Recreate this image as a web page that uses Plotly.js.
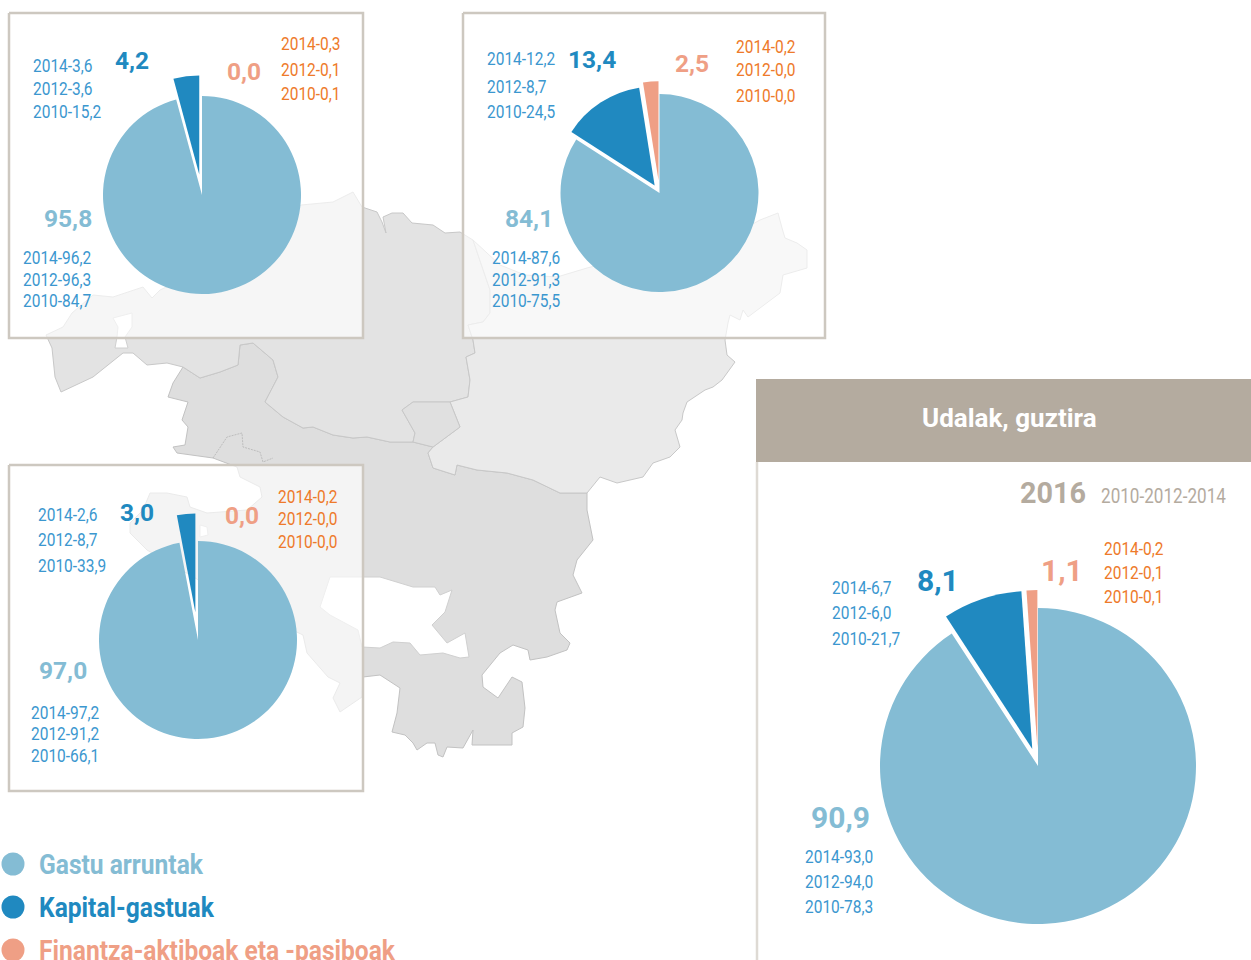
<!DOCTYPE html>
<html>
<head>
<meta charset="utf-8">
<script src="https://cdn.plot.ly/plotly-3.0.1.min.js"></script>
<style>html,body{margin:0;padding:0;background:#fff;overflow:hidden}</style>
</head>
<body>
<div id="chart" style="width:1251px;height:960px"></div>
<script>
// ---- data ----
const categories = ['Gastu arruntak', 'Kapital-gastuak', 'Finantza-aktiboak eta -pasiboak'];
const years = [2014, 2012, 2010];

const bizkaiaNow  = [95.8, 4.2, 0.0];
const gipuzkoaNow = [84.1, 13.4, 2.5];
const arabaNow    = [97.0, 3.0, 0.0];
const totalNow    = [90.9, 8.1, 1.1];

const bizkaiaCurrent  = [96.2, 96.3, 84.7];
const bizkaiaCapital  = [3.6, 3.6, 15.2];
const bizkaiaFinance  = [0.3, 0.1, 0.1];
const gipuzkoaCurrent = [87.6, 91.3, 75.5];
const gipuzkoaCapital = [12.2, 8.7, 24.5];
const gipuzkoaFinance = [0.2, 0.0, 0.0];
const arabaCurrent    = [97.2, 91.2, 66.1];
const arabaCapital    = [2.6, 8.7, 33.9];
const arabaFinance    = [0.2, 0.0, 0.0];
const totalCurrent    = [93.0, 94.0, 78.3];
const totalCapital    = [6.7, 6.0, 21.7];
const totalFinance    = [0.2, 0.1, 0.1];

const panelTitle = 'Udalak, guztira';
const panelYear = '2016';
const panelYears = '2010-2012-2014';

// backdrop map outlines
const mapWest = [[46,335],[63,327],[72,313],[93,295],[113,297],[143,287],[152,298],[160,290],[220,262],[270,222],[301,205],[333,202],[345,196],[353,192],[362,207],[377,212],[382,222],[386,233],[383,217],[392,213],[403,213],[412,223],[433,225],[445,233],[460,232],[473,240],[490,290],[490,313],[483,322],[468,325],[473,340],[475,353],[466,357],[470,380],[468,397],[450,402],[413,402],[402,410],[415,433],[413,442],[390,442],[367,437],[353,438],[333,435],[313,427],[303,428],[283,417],[265,402],[278,377],[273,360],[253,343],[240,345],[238,365],[220,372],[200,378],[183,367],[167,363],[147,365],[133,353],[123,353],[93,377],[61,392],[55,377],[52,348],[46,335]];
const mapEast = [[473,240],[487,253],[500,265],[525,275],[557,277],[587,268],[747,227],[760,220],[778,213],[782,228],[785,238],[797,243],[807,250],[807,268],[783,275],[780,293],[767,303],[748,317],[743,310],[740,320],[730,315],[728,323],[725,340],[727,355],[735,362],[722,380],[713,387],[705,390],[687,402],[683,413],[682,420],[675,430],[680,447],[670,457],[653,463],[643,477],[617,483],[600,477],[587,493],[560,493],[533,480],[507,473],[477,470],[457,465],[455,475],[433,468],[428,453],[433,447],[460,427],[450,402],[468,397],[470,380],[466,357],[475,353],[473,340],[468,325],[483,322],[490,313],[490,290],[473,240]];
const mapCentre = [[450,402],[413,402],[402,410],[415,433],[413,442],[433,447],[460,427],[450,402]];
const mapSouth = [[183,367],[173,383],[168,397],[188,402],[182,420],[188,427],[185,445],[173,447],[177,453],[213,458],[237,467],[240,477],[260,487],[262,497],[247,510],[207,513],[190,507],[187,497],[167,493],[150,493],[143,510],[130,523],[130,533],[147,550],[250,610],[303,635],[307,653],[328,677],[340,683],[333,698],[340,712],[362,697],[363,677],[380,675],[400,688],[397,713],[392,732],[405,735],[413,743],[417,750],[427,743],[435,743],[438,755],[443,757],[447,747],[463,748],[473,730],[472,745],[493,745],[512,745],[512,733],[523,727],[525,708],[523,693],[522,682],[512,677],[498,698],[483,687],[482,675],[500,653],[513,645],[528,650],[530,660],[547,657],[567,650],[570,643],[560,633],[555,610],[557,602],[582,593],[573,575],[577,560],[593,540],[587,510],[587,493],[560,493],[533,480],[507,473],[477,470],[457,465],[455,475],[433,468],[428,453],[433,447],[413,442],[390,442],[367,437],[353,438],[333,435],[313,427],[303,428],[283,417],[265,402],[278,377],[273,360],[253,343],[240,345],[238,365],[220,372],[200,378],[183,367]];
const mapInnerLine = [[213,458],[227,437],[242,433],[243,447],[260,452],[263,462],[273,458]];
const mapHoleA = [[113,318],[132,313],[132,327],[125,337],[128,348],[115,348],[117,337],[118,327],[113,318]];
const mapHoleB = [[320,607],[330,577],[380,577],[413,587],[435,587],[440,595],[452,590],[445,612],[432,625],[447,643],[465,633],[469,657],[460,658],[443,653],[420,655],[410,643],[393,642],[380,648],[362,647],[358,630],[330,615],[320,607]];
const mapHoleC = [[200,525],[207,527],[208,535],[200,537],[200,525]];

// ---- styling ----
const LIGHT = '#84bcd4', BLUE = '#2089c0', PINK = '#ef9f85';
const SMALLBLUE = '#3b97cf', ORANGE = '#ee7a2a', TAUPE = '#b4ab9f';
const FONT = 'Roboto,"Open Sans",sans-serif';
const W = 1251, H = 960;
const fmt = v => v.toFixed(1).replace('.', ',');

const traces = [];
function poly(pts, fill, line) {
  traces.push({type:'scatter', mode:'lines', x:pts.map(p=>p[0]), y:pts.map(p=>p[1]),
    fill:'toself', fillcolor:fill, line:{color:line, width:1}, hoverinfo:'skip', showlegend:false});
}
poly(mapSouth, '#dedede', '#c2c2c2');
poly(mapWest, '#e3e3e3', '#c8c8c8');
poly(mapEast, '#eaeaea', '#c8c8c8');
poly(mapCentre, '#e0e0e0', '#c8c8c8');
[mapHoleA, mapHoleB, mapHoleC].forEach(h => poly(h, '#ffffff', '#d0d0d0'));
traces.push({type:'scatter', mode:'lines', x:mapInnerLine.map(p=>p[0]), y:mapInnerLine.map(p=>p[1]),
  line:{color:'#bdbdbd', width:1, dash:'2px,1px'}, hoverinfo:'skip', showlegend:false});

// translucent frames over the map
const frames = [[9,363,13,338],[463,825,13,338],[9,363,465,791]];
frames.forEach(f => {
  traces.push({type:'scatter', mode:'lines', x:[f[0],f[1],f[1],f[0],f[0]], y:[f[2],f[2],f[3],f[3],f[2]],
    fill:'toself', fillcolor:'rgba(255,255,255,0.66)', line:{color:'#cdc8c0', width:2.5}, hoverinfo:'skip', showlegend:false});
});

// legend dots
const legendY = [865, 908, 951];
const palette = [LIGHT, BLUE, PINK];
traces.push({type:'scatter', mode:'markers', x:[13,13,13], y:[864,907,950],
  marker:{size:23, color:palette}, hoverinfo:'skip', showlegend:false});

// pies
function pie(vals, cx, cy, r, pull) {
  const m = Math.max(...pull), half = r * (1 + m);
  traces.push({type:'pie', values:vals, labels:categories, sort:false, direction:'clockwise', rotation:0,
    pull:pull, textinfo:'none', hoverinfo:'skip', showlegend:false,
    marker:{colors:palette, line:{width:0}},
    domain:{x:[(cx-half)/W,(cx+half)/W], y:[1-(cy+half)/H,1-(cy-half)/H]}});
}
pie(bizkaiaNow, 202, 195, 99, [0,0.21,0]);
pie(gipuzkoaNow, 659.5, 193, 99, [0,0.09,0.13]);
pie(arabaNow, 198, 640, 99, [0,0.28,0]);
pie(totalNow, 1038, 766, 158, [0,0.114,0.114]);

// text; squeeze[i] narrows a label to the condensed face of the original
const ann = [], squeeze = [];
function txt(t, x, y, size, color, sx, anchor) {
  ann.push({text:t, x:x, y:y, xref:'x', yref:'y', xanchor:anchor||'left', yanchor:'middle', showarrow:false,
    font:{size:size, color:color, family:FONT}, borderpad:0, borderwidth:0});
  squeeze.push(sx);
}
function list(vals, x, ys, color) {
  vals.forEach((v,i) => txt(years[i]+'-'+fmt(v), x, ys[i]-1, 18, color, 0.86));
}
function big(v, x, y, color, size) { txt('<b>'+fmt(v)+'</b>', x, y, size||24.5, color, 1); }

list(bizkaiaCapital, 33, [66,89,112], SMALLBLUE);
list(bizkaiaFinance, 281, [44,70,94], ORANGE);
list(bizkaiaCurrent, 23, [258,280,301], SMALLBLUE);
big(bizkaiaNow[1], 115, 60, BLUE); big(bizkaiaNow[2], 227, 71, PINK); big(bizkaiaNow[0], 44, 218, LIGHT);

list(gipuzkoaCapital, 487, [59,87,112], SMALLBLUE);
list(gipuzkoaFinance, 736, [47,70,96], ORANGE);
list(gipuzkoaCurrent, 492, [258,280,301], SMALLBLUE);
big(gipuzkoaNow[1], 568, 59, BLUE); big(gipuzkoaNow[2], 675, 63, PINK); big(gipuzkoaNow[0], 505, 218, LIGHT);

list(arabaCapital, 38, [515,540,566], SMALLBLUE);
list(arabaFinance, 278, [497,519,542], ORANGE);
list(arabaCurrent, 31, [713,734,756], SMALLBLUE);
big(arabaNow[1], 120, 512, BLUE); big(arabaNow[2], 225, 515, PINK); big(arabaNow[0], 39, 670, LIGHT);

list(totalCapital, 832, [588,613,639], SMALLBLUE);
list(totalFinance, 1104, [549,573,597], ORANGE);
list(totalCurrent, 805, [857,882,907], SMALLBLUE);
big(totalNow[1], 917, 580, BLUE, 30); big(totalNow[2], 1041, 570, PINK, 30); big(totalNow[0], 811, 817, LIGHT, 30);

categories.forEach((c,i) => txt('<b>'+c+'</b>', 39, legendY[i], 27, palette[i], 0.91));
txt('<b>'+panelTitle+'</b>', 1009, 418, 26, '#ffffff', 1, 'center');
txt('<b>'+panelYear+'</b>', 1020, 492, 30, TAUPE, 0.96);
txt(panelYears, 1101, 496, 20, TAUPE, 0.856);

const layout = {
  width:W, height:H, margin:{l:0,r:0,t:0,b:0}, paper_bgcolor:'#fff', plot_bgcolor:'#fff', showlegend:false,
  xaxis:{range:[0,W], visible:false, fixedrange:true},
  yaxis:{range:[H,0], visible:false, fixedrange:true},
  shapes:[
    {type:'rect', xref:'x', yref:'y', x0:756, x1:1251, y0:379, y1:462, fillcolor:TAUPE, line:{width:0}},
    {type:'line', xref:'x', yref:'y', x0:757, x1:757, y0:462, y1:960, line:{color:'#dedad4', width:2.5}}
  ],
  annotations:ann
};
Plotly.newPlot('chart', traces, layout, {staticPlot:true, displayModeBar:false}).then(() => {
  document.querySelectorAll('.annotation').forEach(g => {
    const i = +g.getAttribute('data-index');
    const t = g.querySelector('text.annotation-text');
    if (!t || squeeze[i] === 1) return;
    const b = t.getBBox();
    t.setAttribute('transform', 'translate(' + b.x + ',0) scale(' + squeeze[i] + ',1) translate(' + (-b.x) + ',0)');
  });
});
</script>
</body>
</html>
